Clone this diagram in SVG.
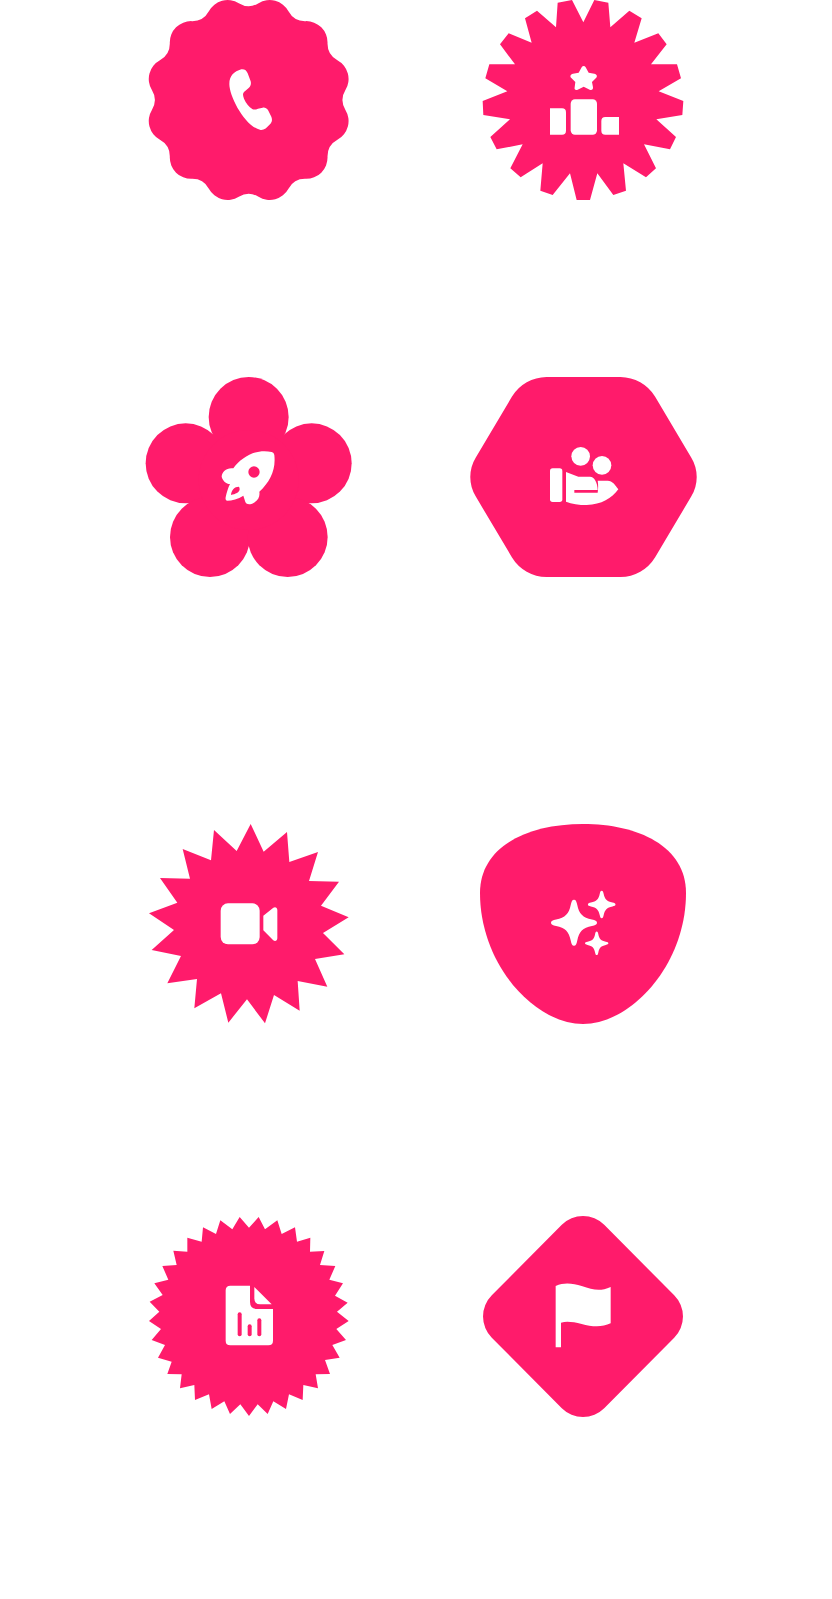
<svg xmlns="http://www.w3.org/2000/svg" xmlns:xlink="http://www.w3.org/1999/xlink" width="832" height="1599" viewBox="0 0 832 1599">
<style>
.s{fill:#ff1b6b}
.i{fill:#fff}
</style>
<defs>
<path id="spark" d="M0-100C8-100 11-92 14-78C22-38 38-22 78-14C92-11 100-8 100 0C100 8 92 11 78 14C38 22 22 38 14 78C11 92 8 100 0 100C-8 100-11 92-14 78C-22 38-38 22-78 14C-92 11-100 8-100 0C-100-8-92-11-78-14C-38-22-22-38-14-78C-11-92-8-100 0-100Z"/>
</defs>
<rect width="832" height="1599" fill="#fff"/>
<g id="badge-phone" transform="translate(130 0) scale(.33333)">
<path class="s" d="M326.3 9.7A57 57 0 0 0 385.7 9.7A64 64 0 0 1 475.4 33.8A57 57 0 0 0 526.8 63.4A64 64 0 0 1 592.6 129.2A57 57 0 0 0 622.2 180.6A64 64 0 0 1 646.3 270.3A57 57 0 0 0 646.3 329.7A64 64 0 0 1 622.2 419.4A57 57 0 0 0 592.6 470.8A64 64 0 0 1 526.8 536.6A57 57 0 0 0 475.4 566.2A64 64 0 0 1 385.7 590.3A57 57 0 0 0 326.3 590.3A64 64 0 0 1 236.6 566.2A57 57 0 0 0 185.2 536.6A64 64 0 0 1 119.4 470.8A57 57 0 0 0 89.8 419.4A64 64 0 0 1 65.7 329.7A57 57 0 0 0 65.7 270.3A64 64 0 0 1 89.8 180.6A57 57 0 0 0 119.4 129.2A64 64 0 0 1 185.2 63.4A57 57 0 0 0 236.6 33.8A64 64 0 0 1 326.3 9.7Z"/>
<path class="i" d="M298 252C298 290 345 380 392 390C402 391 410 384 420 373C427 366 427 358 424 350L414 330C410 325 405 322 398 323L384 326C378 328 374 330 368 328C356 320 348 310 342 296C338 286 338 280 342 276L356 264C362 258 364 252 362 244L353 220C350 212 344 207 334 208C312 214 298 228 298 252Z"/>
</g>
<g id="badge-podium" transform="translate(460 0) scale(.33333)">
<polygon class="s" points="370,67 403,0 445,8 451,82 508,32 545,55 523,128 595,100 620,133 573,193 651,193 663,235 596,274 670,303 667,345 589,358 648,411 630,448 552,433 588,505 558,532 490,490 498,572 460,585 412,520 390,600 350,600 330,520 278,585 241,572 248,490 182,532 151,505 188,433 110,448 91,411 150,358 70,345 68,303 142,274 76,235 88,193 165,193 120,133 146,100 215,128 195,55 231,32 288,82 293,8 336,0"/>
<path class="i" d="M365 202C368 197 374 197 377 202L386 218L403 221C411 223 413 229 408 234L396 246L399 262C400 268 395 272 389 269L371 260L353 269C347 272 342 268 344 262L346 246L334 234C329 229 331 223 339 221L356 218Z"/>
<path class="i" d="M270 325H306Q318 325 318 337V392Q318 404 306 404H270Z"/>
<rect class="i" x="332" y="298" width="79" height="106" rx="13"/>
<path class="i" d="M477 351H436Q424 351 424 363V392Q424 404 436 404H477Z"/>
</g>
<g id="flower-rocket" transform="translate(130 360) scale(.33333)">
<g class="s">
<circle cx="356" cy="171" r="120"/>
<circle cx="167" cy="310" r="120"/>
<circle cx="545" cy="310" r="120"/>
<circle cx="240" cy="531" r="120"/>
<circle cx="473" cy="531" r="120"/>
<circle cx="356" cy="360" r="150"/>
</g>
<path class="i" fill-rule="evenodd" d="M433 285C438 330 420 365 388 395C390 408 386 420 372 428C360 435 350 434 346 426L340 407C325 417 305 422 292 422C287 421 286 417 287 412C290 398 294 384 300 372C288 372 278 362 275 350C276 335 290 322 310 325C335 290 380 265 425 276C430 277 432 280 433 285ZM372 319A17 17 0 1 0 372 353A17 17 0 1 0 372 319ZM326 380C314 380 304 390 303 405C316 403 329 397 329 388C329 384 328 381 326 380Z"/>
</g>
<g id="hexagon-care">
<path class="s" d="M546.5 377H620.5A41 41 0 0 1 655 396.6L691.2 457.4A37.6 37.6 0 0 1 691.2 496.6L655 557.4A41 41 0 0 1 620.5 577H546.5A41 41 0 0 1 512 557.4L475.8 496.6A37.6 37.6 0 0 1 475.8 457.4L512 396.6A41 41 0 0 1 546.5 377Z"/>
<g transform="translate(455 360) scale(.33333)">
<circle class="i" cx="377" cy="289" r="28"/>
<circle class="i" cx="441" cy="316" r="28"/>
<rect class="i" x="285" y="325" width="37" height="101" rx="8"/>
<path class="i" d="M333 336L370 350H405C418 350 428 368 428 390H358V398H428C430 385 430 372 428 362H458C472 362 482 376 490 388C470 415 440 434 395 435C372 435 350 432 333 425Z"/>
</g>
</g>
<g id="burst-video" transform="translate(135 800) scale(.33333)">
<polygon class="s" points="347,72 386,155 456,96 463,186 549,156 522,243 612,245 558,317 641,352 564,399 628,463 540,477 577,560 488,543 494,632 417,585 390,670 336,598 280,668 258,580 178,625 186,537 97,550 138,468 50,450 117,390 42,340 127,308 75,234 165,236 143,147 228,181 237,90 305,153"/>
<rect class="i" x="257" y="310" width="117" height="123" rx="22"/>
<path class="i" d="M385 347L415 323C421 319 427 323 427 330V415C427 422 420 426 414 420L385 391Z"/>
</g>
<g id="blob-sparkles">
<path class="s" d="M583 824C528 824 480 846 480 893C480 965 535 1024 583 1024C631 1024 686 965 686 893C686 846 638 824 583 824Z"/>
<g class="i">
<use xlink:href="#spark" href="#spark" transform="translate(574 922.7) scale(.23)"/>
<use xlink:href="#spark" href="#spark" transform="translate(601.7 904.5) scale(.138)"/>
<use xlink:href="#spark" href="#spark" transform="translate(596.7 943.3) scale(.117)"/>
</g>
</g>
<g id="burst-file" transform="translate(135 1185) scale(.33333)">
<polygon class="s" points="314,96 342,128 371,96 390,133 427,106 440,147 480,127 486,170 526,158 525,200 568,198 555,240 601,243 583,284 624,295 600,332 638,353 606,380 641,408 604,432 633,465 592,480 614,518 570,525 585,567 542,568 549,610 505,600 503,645 462,628 453,672 415,649 398,687 368,658 342,693 316,658 285,687 268,649 230,672 222,628 180,645 178,600 135,610 140,568 97,567 110,530 69,518 90,480 50,465 78,432 42,408 73,380 44,350 83,330 58,295 100,284 82,243 125,240 115,197 157,200 157,158 200,170 204,127 243,147 256,106 292,133"/>
<path class="i" d="M286 302H345V350Q345 372 367 372H414V467Q414 481 400 481H286Q272 481 272 467V316Q272 302 286 302Z"/>
<path class="i" d="M358 306L410 358H375Q358 358 358 340Z"/>
<g class="s">
<rect x="308" y="382" width="12" height="72" rx="6"/>
<rect x="338" y="418" width="12" height="36" rx="6"/>
<rect x="367" y="400" width="12" height="54" rx="6"/>
</g>
</g>
<g id="diamond-flag">
<path class="s" d="M561.8 1224.8A30 30 0 0 1 604.2 1224.8L674.2 1295.3A30 30 0 0 1 674.2 1337.7L604.2 1408.2A30 30 0 0 1 561.8 1408.2L491.8 1337.7A30 30 0 0 1 491.8 1295.3Z"/>
<path class="i" transform="translate(465 1185) scale(.33333)" d="M272 303C300 290 325 296 350 303C385 315 405 320 437 306V415C410 428 380 425 350 417C325 411 305 408 288 413V487H272Z"/>
</g>
</svg>
